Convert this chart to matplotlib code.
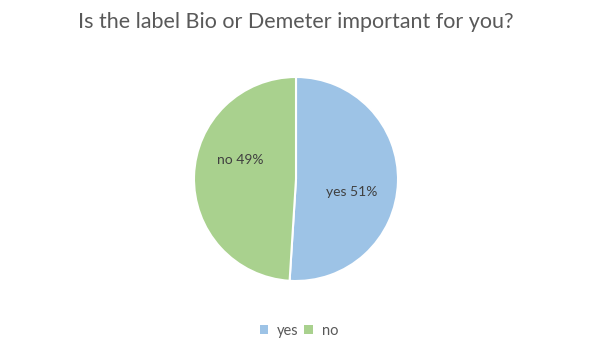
import matplotlib.pyplot as plt
from matplotlib.patches import Patch

plt.rcParams['font.family'] = ['Lato', 'DejaVu Sans']

labels = ['yes', 'no']
shares = [51, 49]
colors = ['#9DC3E6', '#A9D18E']

# label spots inside the slices (unit-radius coordinates, like Excel's best fit)
label_x = [0.55, -0.55]
label_y = [-0.13, 0.19]

fig = plt.figure(figsize=(5.97, 3.57), dpi=100)
ax = fig.add_axes([194 / 597, 76 / 357, 204 / 597, 204 / 357])

ax.pie(shares, colors=colors, startangle=90, counterclock=False, radius=1,
       wedgeprops=dict(edgecolor='white', linewidth=1.5))
ax.set_xlim(-1.0, 1.0)
ax.set_ylim(-1.0, 1.0)

for lab, val, x, y in zip(labels, shares, label_x, label_y):
    ax.text(x, y, f'{lab} {val}%', ha='center', va='center', fontsize=10, color='#404040')

fig.text(295.5 / 597, 1 - 22 / 357, 'Is the label Bio or Demeter important for you?',
         ha='center', va='center', fontsize=15.5, color='#595959')

handles = [Patch(facecolor=c, edgecolor='none') for c in colors]
fig.legend(handles, labels, loc='center', bbox_to_anchor=(299 / 597, 1 - 331 / 357), ncol=2,
           frameon=False, fontsize=10.5, handlelength=0.6, handleheight=0.6,
           handletextpad=0.6, columnspacing=0.4, labelcolor='#595959')

fig.savefig('out.png', dpi=100, facecolor='white')
